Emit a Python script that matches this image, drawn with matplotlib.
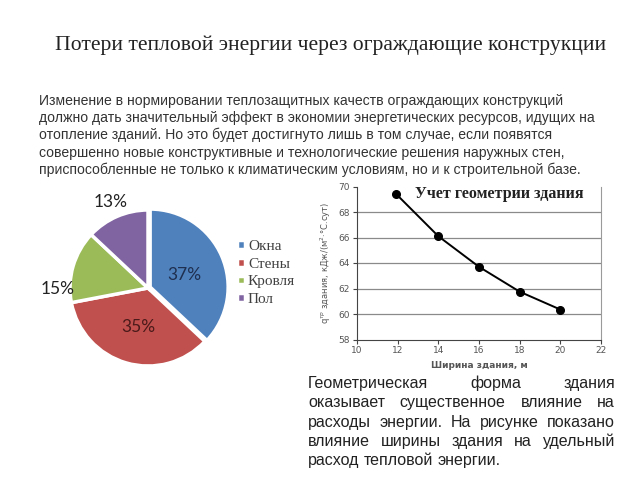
import matplotlib.pyplot as plt
import numpy as np

# pie data
parts = ["Окна", "Стены", "Кровля", "Пол"]
shares = [37, 35, 15, 13]
part_colors = ["#4F81BD", "#C0504D", "#9BBB59", "#8064A2"]

# line data
width_m = [11.9, 14, 16, 18, 20]
q_spec = [69.45, 66.1, 63.7, 61.75, 60.35]

title = "Потери тепловой энергии через ограждающие конструкции"
top_lines = [
    "Изменение в нормировании теплозащитных качеств ограждающих конструкций",
    "должно дать значительный эффект в экономии энергетических ресурсов, идущих на",
    "отопление зданий. Но это будет достигнуто лишь в том случае, если появятся",
    "совершенно новые конструктивные и технологические решения наружных стен,",
    "приспособленные не только к климатическим условиям, но и к строительной базе.",
]
bottom_lines = [
    "Геометрическая форма здания",
    "оказывает существенное влияние на",
    "расходы энергии. На рисунке показано",
    "влияние ширины здания на удельный",
    "расход тепловой энергии.",
]

W, H = 640, 480
fig = plt.figure(figsize=(6.4, 4.8), dpi=100)
txt_color = "#333333"

fig.text(55 / W, 1 - 45 / H, title, family="Liberation Serif", fontsize=15.6,
         color="#222222", va="center", ha="left")

for i, line in enumerate(top_lines):
    fig.text(39 / W, 1 - (105 + 17.2 * i) / H, line, family="Liberation Sans",
             fontsize=10.1, color=txt_color, va="baseline", ha="left")

# ---- pie
cx, cy, r = 148, 288, 78
half = 1.5 * r
ax = fig.add_axes([(cx - half) / W, 1 - (cy + half) / H, 2 * half / W, 2 * half / H])
wedges, _ = ax.pie(shares, colors=part_colors, startangle=90, counterclock=False,
                   explode=[0.03, 0, 0, 0],
                   wedgeprops=dict(edgecolor="white", linewidth=2.5))
ax.set_xlim(-1.5, 1.5)
ax.set_ylim(-1.5, 1.5)
ax.set_aspect("equal")

lab_dist = [0.5, 0.51, 1.16, 1.2]
lab_shift = [-4, 2, 17, 0]
lab_colors = ["#1F2F4F", "#4A1A1A", "#222222", "#222222"]
for w, v, d, s, c in zip(wedges, shares, lab_dist, lab_shift, lab_colors):
    ang = np.deg2rad((w.theta1 + w.theta2) / 2 + s)
    ax.text(d * np.cos(ang), d * np.sin(ang), f"{v}%", ha="center", va="center",
            family="Lato", fontsize=12.5, color=c)

leg = ax.legend(wedges, parts, loc="center left",
                bbox_to_anchor=(237 / W, 1 - 273 / H), bbox_transform=fig.transFigure,
                frameon=False, borderpad=0, borderaxespad=0, handlelength=0.5,
                handleheight=0.5, handletextpad=0.22, labelspacing=0.3,
                prop=dict(family="Liberation Serif", size=11))
for t in leg.get_texts():
    t.set_color("#404040")

# ---- line chart
x0, x1, y0, y1 = 357, 601, 186.5, 339.5
ax2 = fig.add_axes([x0 / W, 1 - y1 / H, (x1 - x0) / W, (y1 - y0) / H])
ax2.set_xlim(10, 22)
ax2.set_ylim(58, 70)
ax2.set_xticks(np.arange(10, 23, 2))
ax2.set_yticks(np.arange(58, 71, 2))
ax2.hlines(ax2.get_yticks()[1:-1], 10, 22, color="#8a8a8a", linewidth=0.9, zorder=1)
ax2.plot(width_m, q_spec, color="black", linewidth=1.4, marker="o",
         markersize=5.5, zorder=3)
ax2.spines["top"].set_visible(False)
ax2.spines["right"].set_color("#9a9a9a")
ax2.spines["right"].set_linewidth(0.8)
for s in ("left", "bottom"):
    ax2.spines[s].set_color("#444444")
ax2.tick_params(labelsize=6.5, labelcolor="#555555", length=3, color="#444444",
                width=0.8, pad=2)
ax2.set_xlabel("Ширина здания, м", fontsize=6.5, fontweight="bold", color="#555555",
               labelpad=4)
ax2.set_ylabel("q$^{тр}$ здания, кДж/(м$^2$·°С.сут)", fontsize=6, color="#555555",
               labelpad=4)
ax2.text(0.93, 0.95, "Учет геометрии здания", transform=ax2.transAxes, ha="right",
         va="center", family="Liberation Serif", fontweight="bold", fontsize=11.5,
         color="#222222")

# ---- justified paragraph under the chart
left, right = 308, 615
fs = 11.5
renderer = fig.canvas.get_renderer()
probe1 = fig.text(0, 0, "a a", fontsize=fs, family="Liberation Sans")
probe2 = fig.text(0, 0, "aa", fontsize=fs, family="Liberation Sans")
space_w = (probe1.get_window_extent(renderer).width
           - probe2.get_window_extent(renderer).width)
probe1.remove()
probe2.remove()

for i, line in enumerate(bottom_lines):
    ypos = 1 - (388 + 19.3 * i) / H
    words = line.split()
    objs = [fig.text(0, ypos, wd, family="Liberation Sans", fontsize=fs,
                     color="#222222", va="baseline", ha="left") for wd in words]
    widths = [o.get_window_extent(renderer).width for o in objs]
    if i == len(bottom_lines) - 1:
        gap = space_w
    else:
        gap = (right - left - sum(widths)) / (len(words) - 1)
    xpos = left
    for o, wdt in zip(objs, widths):
        o.set_x(xpos / W)
        xpos += wdt + gap

fig.savefig("out.png", dpi=100)
